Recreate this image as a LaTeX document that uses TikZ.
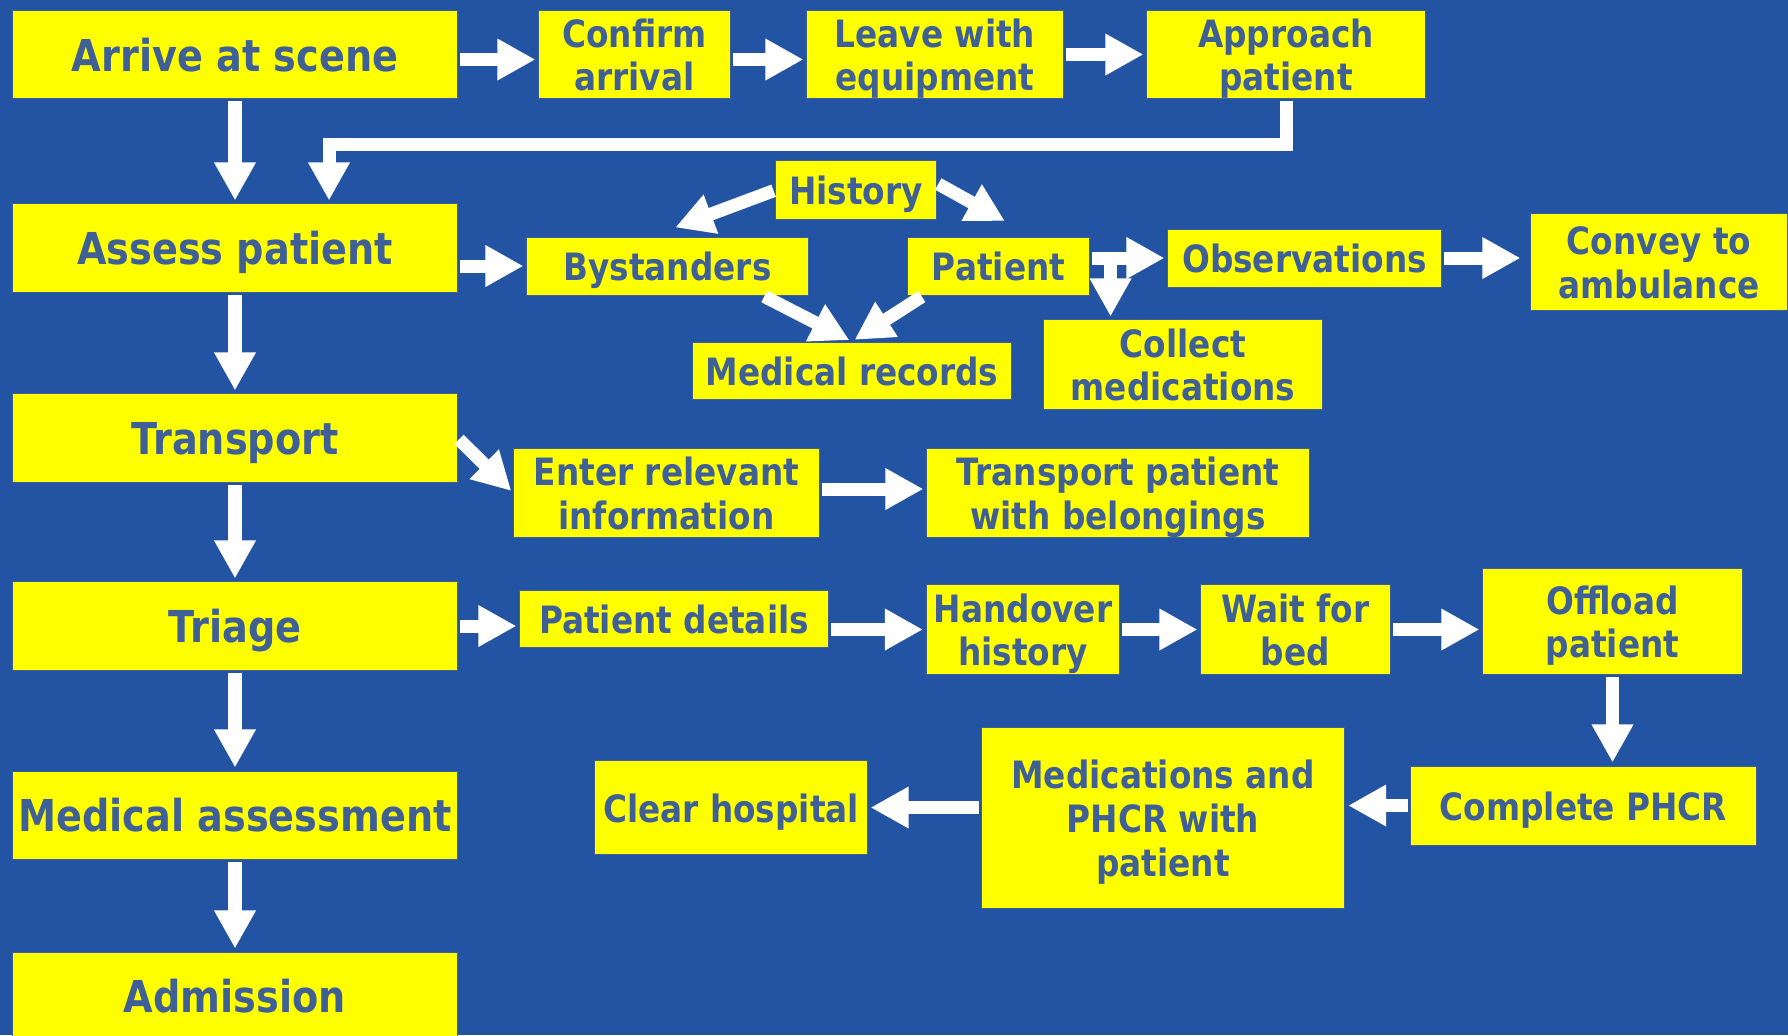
\documentclass[tikz,border=0pt]{standalone}
\usepackage{fontspec}
\usetikzlibrary{arrows.meta,calc}
\newfontfamily\flowfont[FakeStretch=0.87]{DejaVu Sans}
\definecolor{slideblue}{RGB}{35,84,163}
\definecolor{inkblue}{RGB}{62,96,150}
\definecolor{boxyellow}{RGB}{255,255,0}
\newcommand\tline[1]{\raisebox{0pt}[0.77em][0pt]{#1}}

\begin{document}
\begin{tikzpicture}[x=0.01cm,y=-0.01cm,
  box/.style={draw=inkblue, line width=0.01cm, fill=boxyellow, text=inkblue, inner sep=0pt,
    align=center, font=\flowfont\bfseries\fontsize{10.7}{12.5}\selectfont},
  size/.style 2 args={minimum width=#1cm, minimum height=#2cm},
  stage/.style={box, size={4.44}{0.88}, font=\flowfont\bfseries\fontsize{12.5}{14}\selectfont},
  flow/.style={draw=white, line width=0.13cm, line join=miter,
    -{Triangle[width=0.39cm,length=0.38cm]}, shorten <=0.02cm, shorten >=0.03cm}]
  \useasboundingbox (0,0) rectangle (1788,1035);
  \fill[slideblue] (0,0) rectangle (1788,1035);

  \node[stage] (arrive) at (235,54.5) {\tline{Arrive at scene}};
  \node[stage] (assess) at (235,248) {\tline{Assess patient}};
  \node[stage] (transport) at (235,438) {\tline{Transport}};
  \node[stage] (triage) at (235,626) {\tline{Triage}};
  \node[stage] (medassess) at (235,815) {\tline{Medical assessment}};
  \node[stage] (admission) at (235,996) {\tline{Admission}};

  \node[box, size={1.91}{0.87}] (confirm) at (634.5,54.5) {\tline{Confirm}\\\tline{arrival}};
  \node[box, size={2.56}{0.87}] (leave) at (935,54.5) {\tline{Leave with}\\\tline{equipment}};
  \node[box, size={2.78}{0.87}] (approach) at (1286,54.5) {\tline{Approach}\\\tline{patient}};

  \node[box, size={1.60}{0.58}] (history) at (856,190) {\tline{History}};
  \node[box, size={2.81}{0.58}] (bystanders) at (667.5,266) {\tline{Bystanders}};
  \node[box, size={1.81}{0.58}] (patient) at (998.5,266) {\tline{Patient}};
  \node[box, size={3.18}{0.57}] (medrec) at (852,370.5) {\tline{Medical records}};
  \node[box, size={2.73}{0.58}] (observations) at (1304.5,258) {\tline{Observations}};
  \node[box, size={2.56}{0.96}] (convey) at (1659,262) {\tline{Convey to}\\\tline{ambulance}};
  \node[box, size={2.78}{0.89}] (collect) at (1183,364.5) {\tline{Collect}\\\tline{medications}};

  \node[box, size={3.05}{0.88}] (enter) at (666.5,493) {\tline{Enter relevant}\\\tline{information}};
  \node[box, size={3.82}{0.88}] (belongings) at (1118,493) {\tline{Transport patient}\\\tline{with belongings}};

  \node[box, size={3.08}{0.57}] (details) at (674,619) {\tline{Patient details}};
  \node[box, size={1.93}{0.89}] (handover) at (1023,629.5) {\tline{Handover}\\\tline{history}};
  \node[box, size={1.89}{0.89}] (waitbed) at (1295.5,629.5) {\tline{Wait for}\\\tline{bed}};
  \node[box, size={2.59}{1.05}] (offload) at (1612.5,621.5) {\tline{Offload}\\\tline{patient}};
  \node[box, size={3.45}{0.79}] (phcr) at (1583.5,805.5) {\tline{Complete PHCR}};
  \node[box, size={3.63}{1.80}] (handmeds) at (1163,818) {\tline{Medications and}\\\tline{PHCR with}\\\tline{patient}};
  \node[box, size={2.72}{0.93}] (clear) at (731,807.5) {\tline{Clear hospital}};

  \draw[flow] (arrive) -- (assess);
  \draw[flow] (assess) -- (transport);
  \draw[flow] (transport) -- (triage);
  \draw[flow] (triage) -- (medassess);
  \draw[flow] (medassess) -- (admission);

  \draw[flow] ($(arrive.east)+(0,5)$) -- ($(confirm.west)+(0,5)$);
  \draw[flow] ($(confirm.east)+(0,5)$) -- ($(leave.west)+(0,5)$);
  \draw[flow] (leave) -- (approach);
  \coordinate (bend) at ($(assess.north)+(94,-59)$);
  \draw[flow] (approach.south) |- (bend) -- (bend |- assess.north);

  \draw[flow] (assess.east |- bystanders.west) -- (bystanders.west);
  \draw[flow] (history.west) -- ($(bystanders.north)+(5,-8)$);
  \draw[flow] ($(history.east)+(0,-7)$) -- ($(patient.north)+(9,-14)$);
  \draw[flow] ($(bystanders.south)+(95,0)$) -- (medrec.north);
  \draw[flow] ($(patient.south)+(-75,0)$) -- (medrec.north);
  \draw[flow] (patient.east |- observations.west) -- (observations.west);
  \coordinate (fork) at ($(patient.east |- observations.west)+(21,0)$);
  \draw[flow] (fork) -- (fork |- collect.north);
  \draw[flow, shorten >=0.1cm] (observations.east) -- (observations.east -| convey.west);

  \draw[flow] (transport.east) -- (enter.west);
  \draw[flow] ($(enter.east)+(0,-4)$) -- ($(belongings.west)+(0,-4)$);

  \draw[flow] (triage.east) -- (triage.east -| details.west);
  \draw[flow] (details.east |- handover.west) -- (handover.west);
  \draw[flow] (handover) -- (waitbed);
  \draw[flow] (waitbed.east) -- (waitbed.east -| offload.west);
  \draw[flow] (offload.south) -- (offload.south |- phcr.north);
  \draw[flow] (phcr.west) -- (phcr.west -| handmeds.east);
  \draw[flow] (handmeds.west |- clear.east) -- (clear.east);
\end{tikzpicture}
\end{document}
